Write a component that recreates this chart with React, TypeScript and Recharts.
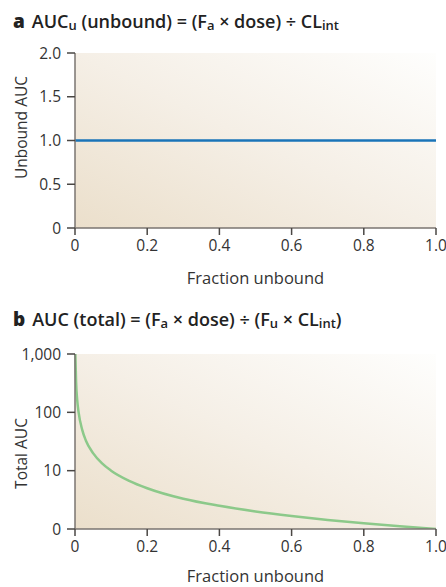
import React from 'react';
import {
  LineChart,
  Line,
  XAxis,
  YAxis,
  CartesianGrid,
} from 'recharts';

/* ---------- DATA ---------- */
const fractionTicks = [0, 0.2, 0.4, 0.6, 0.8, 1.0];
const fractionLabels = ['0', '0.2', '0.4', '0.6', '0.8', '1.0'];

const unboundTicks = [0, 0.5, 1.0, 1.5, 2.0];
const unboundLabels = ['0', '0.5', '1.0', '1.5', '2.0'];

const totalTicks = [1, 10, 100, 1000];
const totalLabels = ['0', '10', '100', '1,000'];

// panel a: unbound AUC stays flat
const unboundFu = [0, 0.2, 0.4, 0.6, 0.8, 1.0];
const unboundAuc = [1.0, 1.0, 1.0, 1.0, 1.0, 1.0];

// panel b: total AUC
const totalFu = [
  0.001, 0.003, 0.006, 0.01, 0.02, 0.03, 0.05, 0.075, 0.1, 0.15, 0.2, 0.3, 0.4, 0.5,
  0.6, 0.7, 0.8, 0.9, 1.0,
];
const totalAuc = [
  1000, 330, 165, 100, 50, 33, 20, 13.3, 10, 6.7, 5, 3.3, 2.5, 2, 1.67, 1.43, 1.25,
  1.11, 1,
];

const dataA = unboundFu.map((fu, i) => ({ fu, auc: unboundAuc[i] }));
const dataB = totalFu.map((fu, i) => ({ fu, auc: totalAuc[i] }));

/* ---------- STYLE ---------- */
const FONT = '"Open Sans", "Noto Sans", Arial, sans-serif';
const AXIS = '#7a7570';
const TICK = '#4a4744';
const TEXT = '#333333';

const fmt = (ticks: number[], labels: string[]) => (v: number) => {
  const i = ticks.findIndex((t) => Math.abs(t - v) < 1e-9);
  return i >= 0 ? labels[i] : String(v);
};

const XTick = ({ x, y, payload, labels, ticks }: any) => (
  <text
    x={x}
    y={y}
    dy="0.72em"
    textAnchor="middle"
    fontSize={15.5}
    fill={TEXT}
    fontFamily={FONT}
  >
    {fmt(ticks, labels)(payload.value)}
  </text>
);

const YTick = ({ x, y, payload, labels, ticks }: any) => (
  <text
    x={x}
    y={y}
    dy="0.36em"
    textAnchor="end"
    fontSize={15.5}
    fill={TEXT}
    fontFamily={FONT}
  >
    {fmt(ticks, labels)(payload.value)}
  </text>
);

const XTitle = ({ viewBox, value, dy }: any) => {
  if (!viewBox) return null;
  return (
    <text
      x={viewBox.x + viewBox.width / 2}
      y={viewBox.y + dy}
      textAnchor="middle"
      dominantBaseline="central"
      fontSize={16.5}
      fill={TEXT}
      fontFamily={FONT}
    >
      {value}
    </text>
  );
};

const YTitle = ({ viewBox, value, dy }: any) => {
  if (!viewBox) return null;
  const cx = 21;
  const cy = viewBox.y + viewBox.height / 2 + dy;
  return (
    <text
      x={cx}
      y={cy}
      transform={`rotate(-90 ${cx} ${cy})`}
      textAnchor="middle"
      dominantBaseline="central"
      fontSize={15.5}
      fill={TEXT}
      fontFamily={FONT}
    >
      {value}
    </text>
  );
};

const Backdrop = ({ id }: { id: string }) => (
  <defs>
    <linearGradient id={id} x1="0" y1="1" x2="1" y2="0">
      <stop offset="0%" stopColor="#ebdfcb" />
      <stop offset="50%" stopColor="#f5efe6" />
      <stop offset="100%" stopColor="#fefefd" />
    </linearGradient>
  </defs>
);

const Title = ({
  top,
  letter,
  children,
}: {
  top: number;
  letter: string;
  children: React.ReactNode;
}) => (
  <div
    style={{
      position: 'absolute',
      left: 13,
      top,
      fontSize: 18,
      lineHeight: '22px',
      fontWeight: 600,
      color: '#222',
      whiteSpace: 'nowrap',
    }}
  >
    <span style={{ fontWeight: 800, fontSize: 19, marginRight: 7 }}>{letter}</span>
    {children}
  </div>
);

const sub: React.CSSProperties = { fontSize: '0.72em', verticalAlign: '-0.15em' };

export default function App() {
  return (
    <div
      style={{
        position: 'absolute',
        left: 0,
        top: 0,
        width: 446,
        height: 587,
        background: '#ffffff',
        fontFamily: FONT,
        overflow: 'hidden',
      }}
    >
      <Title top={10} letter="a">
        AUC<span style={sub}>u</span> (unbound) = (F<span style={sub}>a</span> × dose) ÷ CL
        <span style={sub}>int</span>
      </Title>

      <div style={{ position: 'absolute', left: 0, top: 0 }}>
        <LineChart
          width={446}
          height={300}
          data={dataA}
          margin={{ top: 53, right: 10, left: 0, bottom: 0 }}
        >
          <Backdrop id="bgA" />
          <CartesianGrid
            horizontal={false}
            vertical={false}
            fill="url(#bgA)"
            stroke="none"
          />
          <XAxis
            dataKey="fu"
            type="number"
            domain={[0, 1]}
            ticks={fractionTicks}
            height={72}
            stroke={AXIS}
            strokeWidth={1.5}
            tickLine={{ stroke: TICK }}
            tickSize={7}
            tickMargin={5}
            tick={<XTick ticks={fractionTicks} labels={fractionLabels} />}
            interval={0}
            label={<XTitle value="Fraction unbound" dy={49} />}
          />
          <YAxis
            dataKey="auc"
            type="number"
            domain={[0, 2]}
            ticks={unboundTicks}
            width={75}
            stroke={AXIS}
            strokeWidth={1.5}
            tickLine={{ stroke: TICK }}
            tickSize={8}
            tickMargin={6}
            tick={<YTick ticks={unboundTicks} labels={unboundLabels} />}
            interval={0}
            label={<YTitle value="Unbound AUC" dy={-13} />}
          />
          <Line
            dataKey="auc"
            type="linear"
            stroke="#1a74b8"
            strokeWidth={2.5}
            dot={false}
            isAnimationActive={false}
          />
        </LineChart>
      </div>

      <Title top={308} letter="b">
        AUC (total) = (F<span style={sub}>a</span> × dose) ÷ (F<span style={sub}>u</span> × CL
        <span style={sub}>int</span>)
      </Title>

      <div style={{ position: 'absolute', left: 0, top: 300 }}>
        <LineChart
          width={446}
          height={287}
          data={dataB}
          margin={{ top: 54, right: 10, left: 0, bottom: 0 }}
        >
          <Backdrop id="bgB" />
          <CartesianGrid
            horizontal={false}
            vertical={false}
            fill="url(#bgB)"
            stroke="none"
          />
          <XAxis
            dataKey="fu"
            type="number"
            domain={[0, 1]}
            ticks={fractionTicks}
            height={58}
            stroke={AXIS}
            strokeWidth={1.5}
            tickLine={{ stroke: TICK }}
            tickSize={7}
            tickMargin={5}
            tick={<XTick ticks={fractionTicks} labels={fractionLabels} />}
            interval={0}
            label={<XTitle value="Fraction unbound" dy={46} />}
          />
          <YAxis
            dataKey="auc"
            type="number"
            scale="log"
            domain={[1, 1000]}
            allowDataOverflow
            ticks={totalTicks}
            width={75}
            stroke={AXIS}
            strokeWidth={1.5}
            tickLine={{ stroke: TICK }}
            tickSize={8}
            tickMargin={6}
            tick={<YTick ticks={totalTicks} labels={totalLabels} />}
            interval={0}
            label={<YTitle value="Total AUC" dy={12} />}
          />
          <Line
            dataKey="auc"
            type="monotone"
            stroke="#8cc98a"
            strokeWidth={2.5}
            dot={false}
            isAnimationActive={false}
          />
        </LineChart>
      </div>
    </div>
  );
}
